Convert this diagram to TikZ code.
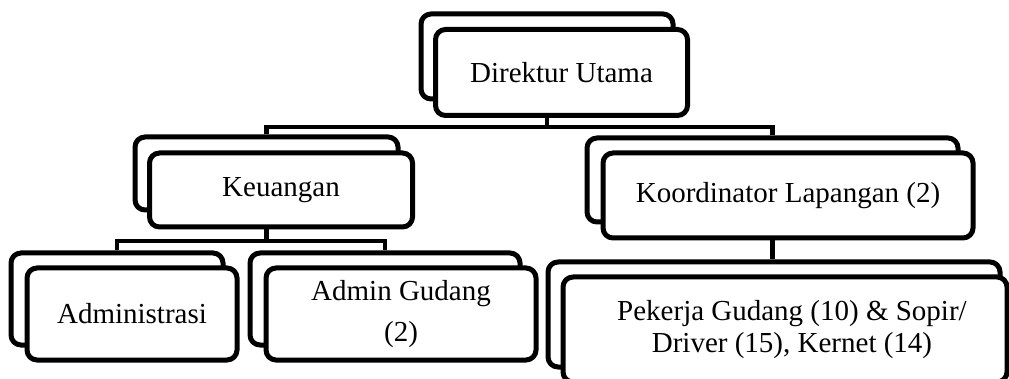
\documentclass[tikz,border=0pt]{standalone}
\usepackage{fontspec}
\setmainfont{Liberation Serif}
\begin{document}
\begin{tikzpicture}[x=1pt,y=-1pt,
  orgbox/.style={draw=black, line width=5pt, rounded corners=10pt, fill=white,
    inner sep=0pt, align=center, font=\fontsize{29}{32}\selectfont},
  conn/.style={draw=black, line width=4.5pt}]
\clip (0,0) rectangle (1009,379);
\coordinate (bar1) at (0,127);
\coordinate (bar2) at (0,241);
% connectors
\node[orgbox, minimum width=252pt, minimum height=85pt] (dirB) at (547,56.5) {};
\node[orgbox, minimum width=263pt, minimum height=73pt] (keuB) at (266.5,173.5) {};
\node[orgbox, minimum width=371pt, minimum height=84pt] (korB) at (772.5,180) {};
\node[orgbox, minimum width=212pt, minimum height=92pt] (admB) at (117,299) {};
\node[orgbox, minimum width=270pt, minimum height=92pt] (agB) at (385,299) {};
\node[orgbox, minimum width=452pt, minimum height=105pt] (pekB) at (774,314.5) {};
\draw[conn] (keuB.north) -- (keuB.north |- bar1) -- (korB.north |- bar1) -- (korB.north);
\draw[conn] (admB.north) -- (admB.north |- bar2) -- (agB.north |- bar2) -- (agB.north);
% front boxes
\node[orgbox, minimum width=252pt, minimum height=86pt] (dirF) at (561.5,72.5) {Direktur Utama};
\node[orgbox, minimum width=263pt, minimum height=74pt] (keuF) at (281,190) {Keuangan};
\node[orgbox, minimum width=370pt, minimum height=85pt] (korF) at (788,195.5) {Koordinator Lapangan (2)};
\node[orgbox, minimum width=210pt, minimum height=92pt] (admF) at (132,314) {Administrasi};
\node[orgbox, minimum width=270pt, minimum height=92pt] (agF) at (401,314) {Admin Gudang\\[9pt](2)};
\node[orgbox, minimum width=444pt, minimum height=105pt] (pekF) at (785,329.5) {\hspace*{14pt}Pekerja Gudang (10) \& Sopir/\\\hspace*{14pt}Driver (15), Kernet (14)};
% stems
\draw[conn] (dirB.center |- dirF.south) -- (dirB.center |- bar1);
\draw[conn] (keuB.center |- keuF.south) -- (keuB.center |- bar2);
\draw[conn] (korB.center |- korF.south) -- (korB.center |- pekB.north);
\end{tikzpicture}
\end{document}
